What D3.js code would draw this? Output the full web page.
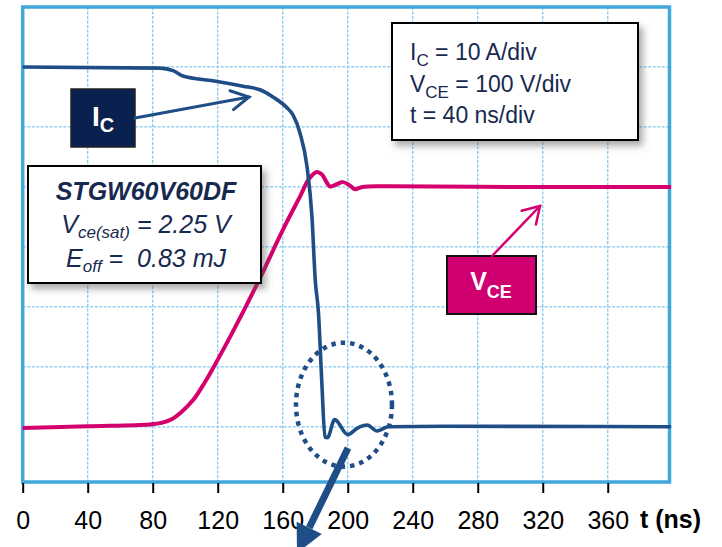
<!DOCTYPE html>
<html>
<head>
<meta charset="utf-8">
<script src="https://cdn.jsdelivr.net/npm/d3@7"></script>
<style>
  html, body { margin: 0; padding: 0; background: #fff; }
  svg { display: block; font-family: "Liberation Sans", Arial, sans-serif; }
</style>
</head>
<body>
<div id="chart"></div>
<script>
// Collector current waveform (time in ns, current in A)
const icTime = [0, 84.5, 92.5, 98.6, 117, 135.6, 146, 154, 162.6, 166.3, 170.6, 175, 178, 180, 182, 184, 186, 187.5, 192, 200, 206, 212, 218, 225, 260, 399];
const icAmps = [60, 59.8, 59.4, 58.5, 57.7, 56.8, 56.2, 55, 53.2, 52, 49, 43.3, 35, 24.5, 19, 7.8, -1.7, -1.8, 1.2, -1.3, -0.2, 0.3, -0.7, 0, 0.1, 0];

// Collector-emitter voltage waveform (time in ns, voltage in V)
const vceTime = [0, 40, 78, 86, 92, 97, 105, 112, 119, 129, 146, 160, 171, 176, 181, 184, 189, 192, 197, 201, 204.5, 209, 226, 300, 399];
const vceVolts = [-2, 1, 4, 7, 13, 23, 45, 74, 107, 157, 248, 328, 386, 413, 425, 421, 401, 403, 408, 403, 396, 400, 401, 400, 400];

// Axis ticks
const timeTicks = [0, 40, 80, 120, 160, 200, 240, 280, 320, 360];
const icGrid = [0, 10, 20, 30, 40, 50, 60];

const width = 722, height = 547;
const plotL = 22.7, plotR = 669.5, plotT = 7, plotB = 482;

const BLUE = '#1f4e86';
const MAGENTA = '#d4006e';
const NAVY = '#17294f';
const FRAME = '#41a8dc';

const x = d3.scaleLinear().domain([0, 398]).range([plotL, plotR]);
const yI = d3.scaleLinear().domain([-9.2, 70]).range([plotB, plotT]);   // 10 A/div
const yV = d3.scaleLinear().domain([-92, 700]).range([plotB, plotT]);   // 100 V/div

const svg = d3.select('#chart').append('svg')
  .attr('width', width)
  .attr('height', height);

const defs = svg.append('defs');
defs.append('filter').attr('id', 'shadow')
  .attr('x', '-10%').attr('y', '-10%').attr('width', '130%').attr('height', '140%')
  .append('feDropShadow')
  .attr('dx', 4).attr('dy', 5).attr('stdDeviation', 3.5)
  .attr('flood-color', '#555').attr('flood-opacity', 0.5);

// grid
const grid = svg.append('g')
  .attr('stroke', '#86c8ec')
  .attr('stroke-width', 1.3)
  .attr('stroke-dasharray', '3,1.5');
grid.selectAll('line.v')
  .data(timeTicks.slice(1))
  .join('line')
  .attr('class', 'v')
  .attr('x1', d => x(d)).attr('x2', d => x(d))
  .attr('y1', plotT).attr('y2', plotB);
grid.selectAll('line.h')
  .data(icGrid)
  .join('line')
  .attr('class', 'h')
  .attr('x1', plotL).attr('x2', plotR)
  .attr('y1', d => yI(d)).attr('y2', d => yI(d));

// frame
svg.append('rect')
  .attr('x', plotL).attr('y', plotT)
  .attr('width', plotR - plotL).attr('height', plotB - plotT)
  .attr('fill', 'none')
  .attr('stroke', FRAME)
  .attr('stroke-width', 3.5);

// x axis (ticks below the frame)
const axis = svg.append('g')
  .attr('transform', `translate(0,${plotB + 1})`)
  .call(d3.axisBottom(x).tickValues(timeTicks).tickSize(10).tickPadding(18).tickFormat(d3.format('d')));
axis.select('.domain').remove();
axis.selectAll('.tick line').attr('stroke', '#000').attr('stroke-width', 2);
axis.selectAll('.tick text')
  .attr('fill', '#000')
  .style('font-size', '25px')
  .style('font-family', '"Liberation Sans", Arial, sans-serif');

svg.append('text')
  .attr('x', 640).attr('y', 528)
  .attr('font-size', 25).attr('font-weight', 'bold')
  .attr('fill', '#000')
  .text('t (ns)');

// waveforms
const vLine = d3.line()
  .x(d => x(d[0]))
  .y(d => yV(d[1]))
  .curve(d3.curveCatmullRom.alpha(0.5));
const iLine = d3.line()
  .x(d => x(d[0]))
  .y(d => yI(d[1]))
  .curve(d3.curveMonotoneX);

svg.append('path')
  .datum(vceTime.map((t, i) => [t, vceVolts[i]]))
  .attr('fill', 'none')
  .attr('stroke', MAGENTA)
  .attr('stroke-width', 4)
  .attr('stroke-linejoin', 'round')
  .attr('d', vLine);

svg.append('path')
  .datum(icTime.map((t, i) => [t, icAmps[i]]))
  .attr('fill', 'none')
  .attr('stroke', BLUE)
  .attr('stroke-width', 3.6)
  .attr('stroke-linejoin', 'round')
  .attr('d', iLine);

// open-arrow helper
function openArrow(x1, y1, x2, y2, color, w, arm, ang) {
  const a = Math.atan2(y2 - y1, x2 - x1);
  const g = svg.append('g').attr('stroke', color).attr('stroke-width', w)
    .attr('fill', 'none').attr('stroke-linecap', 'round');
  g.append('line').attr('x1', x1).attr('y1', y1).attr('x2', x2).attr('y2', y2);
  g.append('path').attr('d',
    `M${x2 - arm * Math.cos(a - ang)},${y2 - arm * Math.sin(a - ang)}` +
    `L${x2},${y2}` +
    `L${x2 - arm * Math.cos(a + ang)},${y2 - arm * Math.sin(a + ang)}`);
}

// ringing highlight (dotted ellipse)
svg.append('ellipse')
  .attr('cx', x(197.7)).attr('cy', yI(3.7))
  .attr('rx', 48).attr('ry', 62)
  .attr('fill', 'none')
  .attr('stroke', BLUE)
  .attr('stroke-width', 4.5)
  .attr('stroke-dasharray', '4.5,5');

// big arrow pointing down out of the ellipse
(function () {
  const sx = 348, sy = 448, tx = 297, ty = 553;
  const len = Math.hypot(tx - sx, ty - sy);
  const ux = (tx - sx) / len, uy = (ty - sy) / len;
  const nx = -uy, ny = ux;
  const hl = 28, hw = 14;
  const bx = tx - hl * ux, by = ty - hl * uy;
  svg.append('line')
    .attr('x1', sx).attr('y1', sy).attr('x2', bx).attr('y2', by)
    .attr('stroke', BLUE).attr('stroke-width', 7);
  svg.append('path')
    .attr('d', `M${tx},${ty}L${bx + hw * nx},${by + hw * ny}L${bx - hw * nx},${by - hw * ny}Z`)
    .attr('fill', BLUE);
})();

// I_C label box
svg.append('rect')
  .attr('x', 71).attr('y', 89).attr('width', 64).attr('height', 58)
  .attr('fill', '#0a2150').attr('stroke', '#222').attr('stroke-width', 1.5);
const icLab = svg.append('text')
  .attr('x', 103).attr('y', 126)
  .attr('text-anchor', 'middle')
  .attr('fill', '#fff').attr('font-weight', 'bold');
icLab.append('tspan').attr('font-size', 28).text('I');
icLab.append('tspan').attr('font-size', 20).attr('dy', 6).text('C');
openArrow(135, 118, 249, 97, BLUE, 3, 20, 0.5);

// V_CE label box
svg.append('rect')
  .attr('x', 447).attr('y', 256).attr('width', 89).attr('height', 58)
  .attr('fill', '#d10070').attr('stroke', '#111').attr('stroke-width', 2);
const vLab = svg.append('text')
  .attr('x', 491).attr('y', 290)
  .attr('text-anchor', 'middle')
  .attr('fill', '#fff').attr('font-weight', 'bold');
vLab.append('tspan').attr('font-size', 25).text('V');
vLab.append('tspan').attr('font-size', 18).attr('dy', 8).text('CE');
openArrow(492, 256, 540, 206, MAGENTA, 2.5, 19, 0.55);

// scale box
svg.append('rect')
  .attr('x', 392).attr('y', 23).attr('width', 246).attr('height', 117)
  .attr('fill', '#fff').attr('stroke', '#000').attr('stroke-width', 2)
  .attr('filter', 'url(#shadow)');
const scaleLines = [
  { main: 'I', sub: 'C', rest: ' = 10 A/div', y: 60 },
  { main: 'V', sub: 'CE', rest: ' = 100 V/div', y: 92 },
  { main: 't = 40 ns/div', sub: '', rest: '', y: 123 }
];
scaleLines.forEach(l => {
  const t = svg.append('text')
    .attr('x', 410).attr('y', l.y)
    .attr('fill', NAVY).attr('font-size', 23);
  t.append('tspan').text(l.main);
  if (l.sub) {
    t.append('tspan').attr('font-size', 17).attr('dy', 6).text(l.sub);
    t.append('tspan').attr('dy', -6).text(l.rest);
  }
});

// device box
svg.append('rect')
  .attr('x', 28).attr('y', 166).attr('width', 233).attr('height', 117)
  .attr('fill', '#fff').attr('stroke', '#000').attr('stroke-width', 2)
  .attr('filter', 'url(#shadow)');
svg.append('text')
  .attr('x', 146).attr('y', 200)
  .attr('text-anchor', 'middle')
  .attr('fill', NAVY)
  .attr('font-size', 25).attr('font-weight', 'bold').attr('font-style', 'italic')
  .text('STGW60V60DF');
const l2 = svg.append('text')
  .attr('x', 146).attr('y', 233)
  .attr('text-anchor', 'middle')
  .attr('fill', NAVY).attr('font-style', 'italic').attr('font-size', 25)
  .style('white-space', 'pre');
l2.append('tspan').text('V');
l2.append('tspan').attr('font-size', 17).attr('dy', 5).text('ce(sat)');
l2.append('tspan').attr('dy', -5).text(' = 2.25 V');
const l3 = svg.append('text')
  .attr('x', 146).attr('y', 267)
  .attr('text-anchor', 'middle')
  .attr('fill', NAVY).attr('font-style', 'italic').attr('font-size', 25)
  .style('white-space', 'pre');
l3.append('tspan').text('E');
l3.append('tspan').attr('font-size', 17).attr('dy', 5).text('off');
l3.append('tspan').attr('dy', -5).text(' =  0.83 mJ');
</script>
</body>
</html>
